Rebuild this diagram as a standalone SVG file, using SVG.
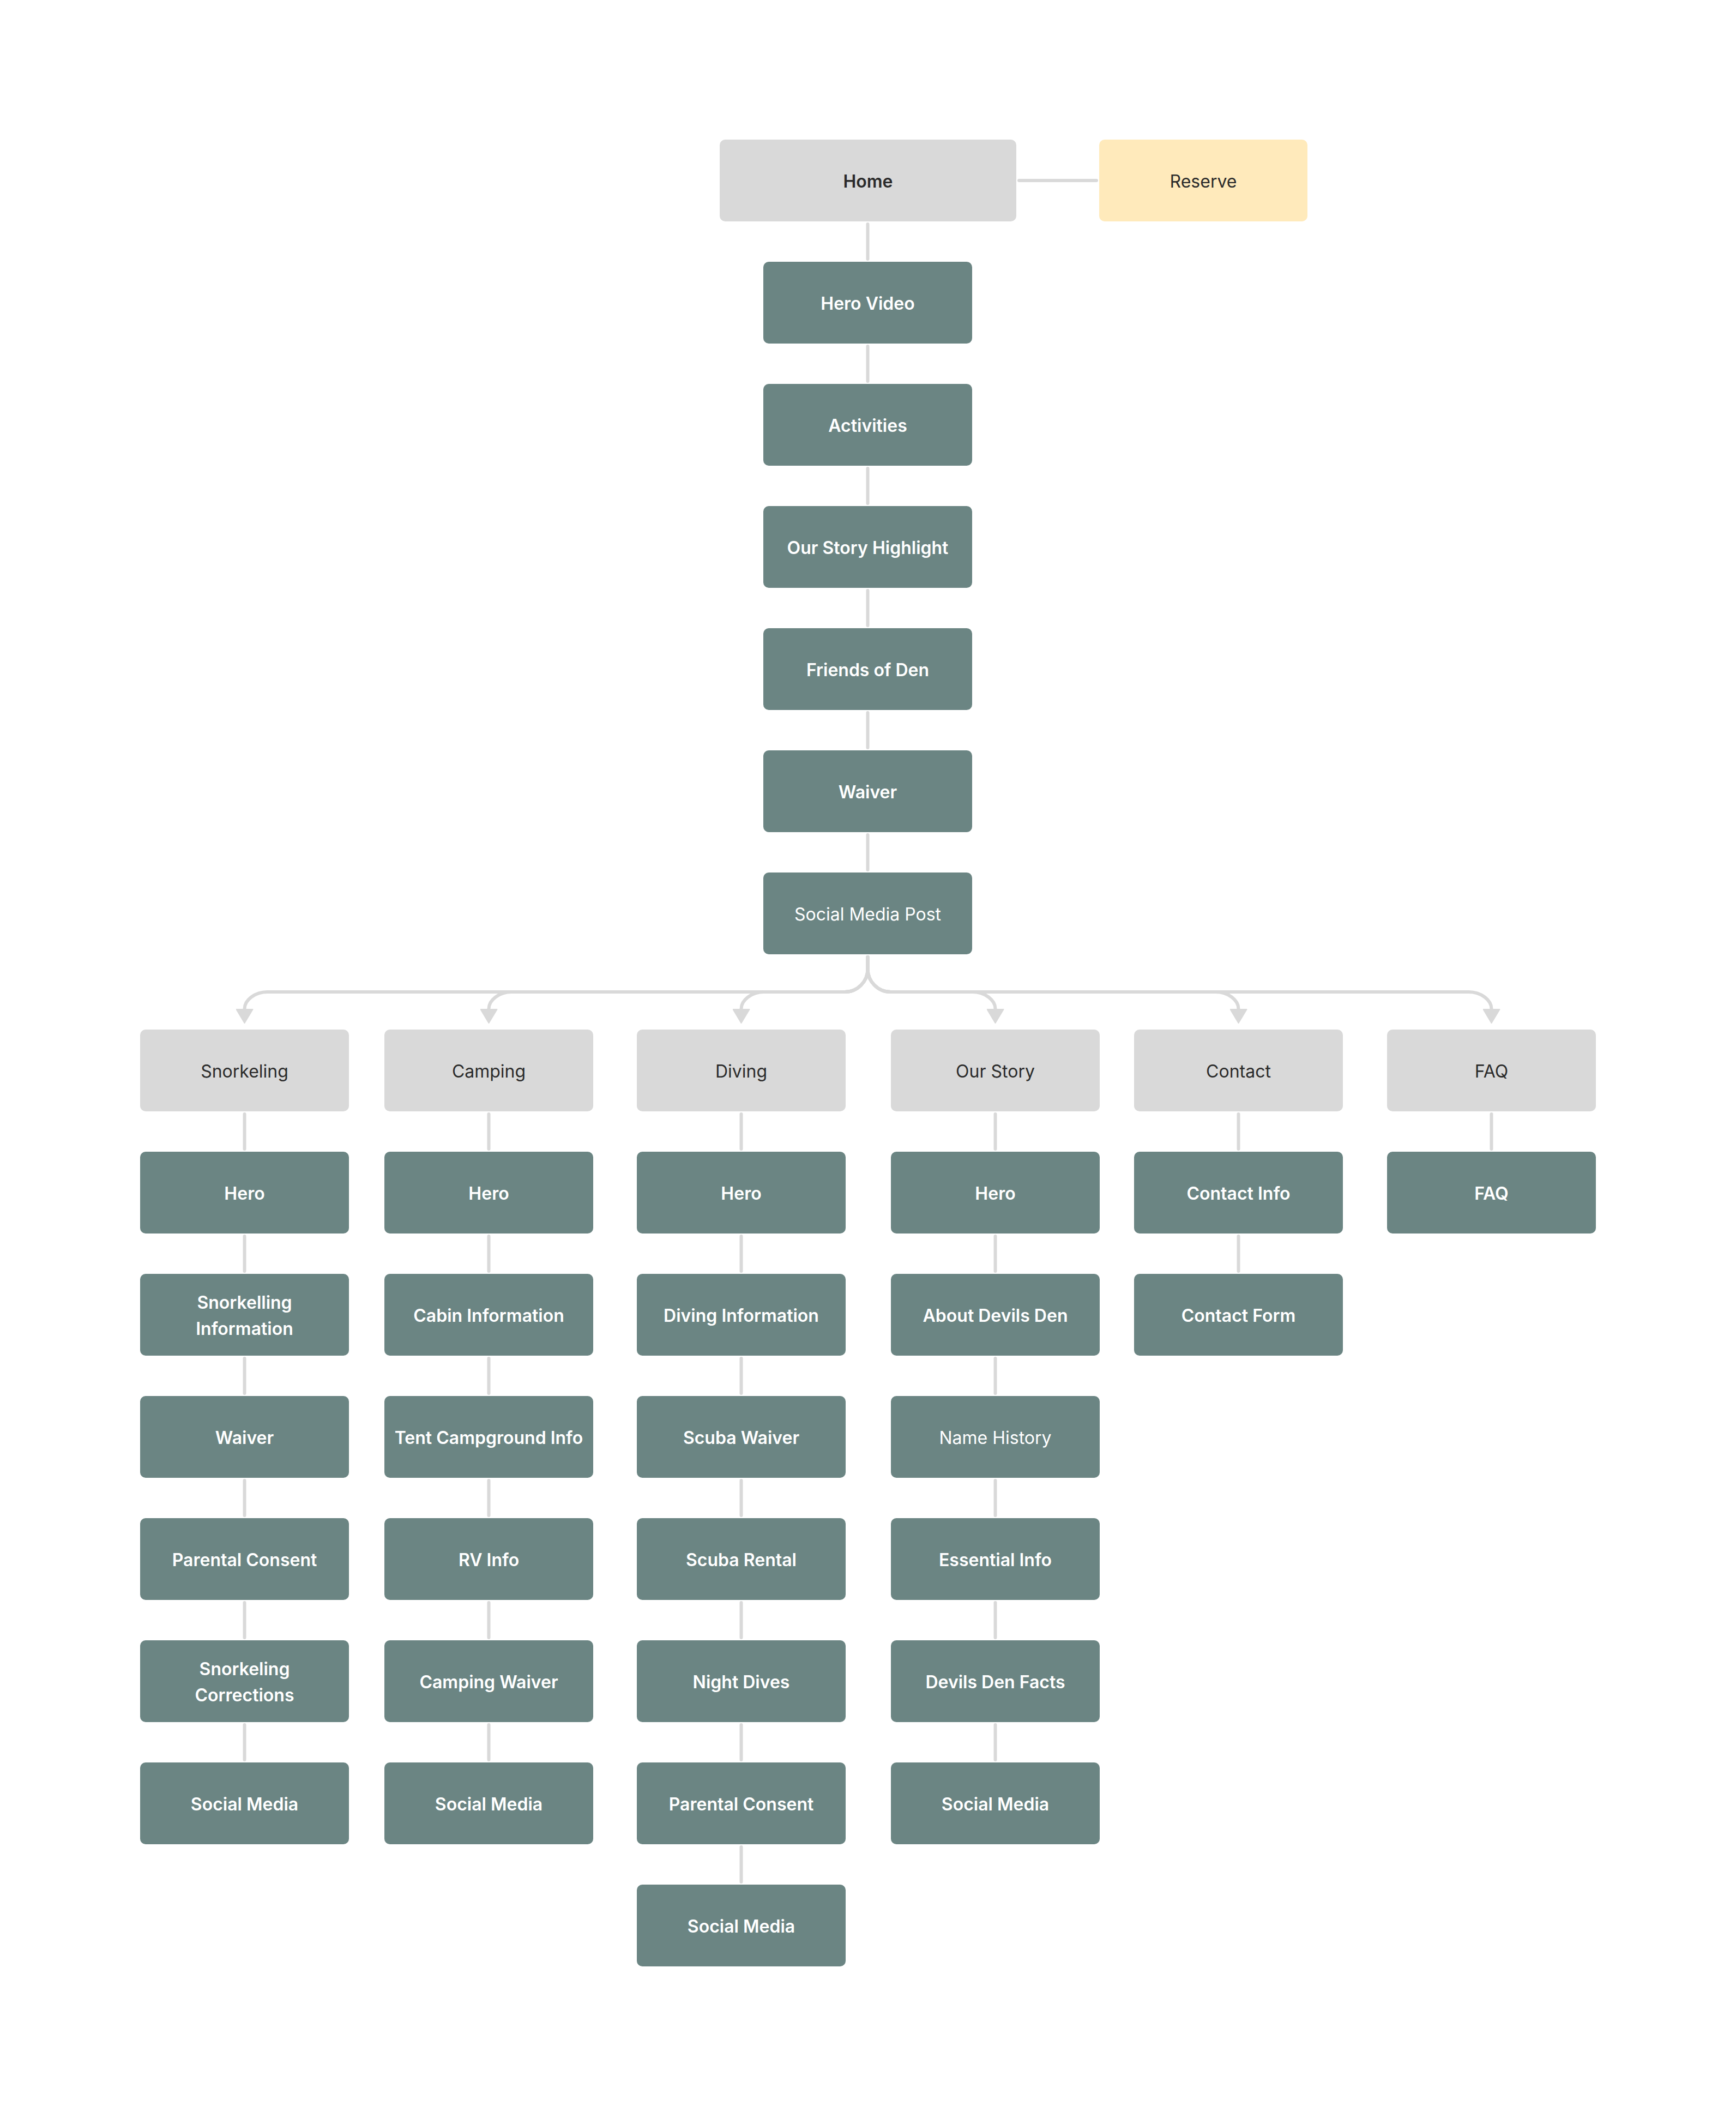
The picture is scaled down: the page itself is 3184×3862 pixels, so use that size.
<svg xmlns="http://www.w3.org/2000/svg" width="3184" height="3862" viewBox="0 0 3184 3862">
<style>
.g{fill:#d9d9d9}
.t{fill:#6b8583}
.y{fill:#ffeabb}
text{font-family:Inter,"Noto Sans","Liberation Sans",sans-serif;font-size:32px;text-anchor:middle}
.dk{fill:#2b2b2b}
.wh{fill:#ffffff}
.b{font-weight:600}
.c{fill:none;stroke:#d9d9d9;stroke-width:6;stroke-linecap:round}
.a{fill:none;stroke:#d9d9d9;stroke-width:6;stroke-linecap:round;marker-end:url(#arr)}
</style>
<defs>
<marker id="arr" viewBox="0 0 27 32" refX="0" refY="16" markerWidth="27" markerHeight="32" markerUnits="userSpaceOnUse" orient="auto">
<path d="M1,1 L26,16 L1,31 Z" fill="#d9d9d9" stroke="#d9d9d9" stroke-width="2" stroke-linejoin="round"/>
</marker>
</defs>
<rect width="3184" height="3862" fill="#ffffff"/>
<g id="connectors">
<path class="c" d="M1869 331 H2011"/>
<path class="c" d="M1591.5 411 V475 M1591.5 635 V699 M1591.5 859 V923 M1591.5 1083 V1147 M1591.5 1307 V1371 M1591.5 1531 V1595"/>
<path class="a" d="M1591.5 1755 V1777 C1591.5 1800 1572.6 1819 1549.5 1819 H490.5 C467.5 1819 448.5 1834 448.5 1850"/>
<path class="a" d="M1591.5 1755 V1777 C1591.5 1800 1572.6 1819 1549.5 1819 H938.5 C915.5 1819 896.5 1834 896.5 1850"/>
<path class="a" d="M1591.5 1755 V1777 C1591.5 1800 1572.6 1819 1549.5 1819 H1401.5 C1378.5 1819 1359.5 1834 1359.5 1850"/>
<path class="a" d="M1591.5 1755 V1777 C1591.5 1800 1610.4 1819 1633.5 1819 H1783.5 C1806.5 1819 1825.5 1834 1825.5 1850"/>
<path class="a" d="M1591.5 1755 V1777 C1591.5 1800 1610.4 1819 1633.5 1819 H2229.5 C2252.5 1819 2271.5 1834 2271.5 1850"/>
<path class="a" d="M1591.5 1755 V1777 C1591.5 1800 1610.4 1819 1633.5 1819 H2693.5 C2716.5 1819 2735.5 1834 2735.5 1850"/>
<path class="c" d="M448.5 2043 V2107 M448.5 2267 V2331 M448.5 2491 V2555 M448.5 2715 V2779 M448.5 2939 V3003 M448.5 3163 V3227"/>
<path class="c" d="M896.5 2043 V2107 M896.5 2267 V2331 M896.5 2491 V2555 M896.5 2715 V2779 M896.5 2939 V3003 M896.5 3163 V3227"/>
<path class="c" d="M1359.5 2043 V2107 M1359.5 2267 V2331 M1359.5 2491 V2555 M1359.5 2715 V2779 M1359.5 2939 V3003 M1359.5 3163 V3227 M1359.5 3387 V3451"/>
<path class="c" d="M1825.5 2043 V2107 M1825.5 2267 V2331 M1825.5 2491 V2555 M1825.5 2715 V2779 M1825.5 2939 V3003 M1825.5 3163 V3227"/>
<path class="c" d="M2271.5 2043 V2107 M2271.5 2267 V2331"/>
<path class="c" d="M2735.5 2043 V2107"/>
</g>
<g id="home"><rect class="g" x="1320" y="256" width="544" height="150" rx="10"/><text class="dk b" x="1592" y="344">Home</text></g>
<g id="reserve"><rect class="y" x="2016" y="256" width="382" height="150" rx="10"/><text class="dk" x="2207" y="344">Reserve</text></g>
<g id="hero-video"><rect class="t" x="1400" y="480" width="383" height="150" rx="10"/><text class="wh b" x="1591.5" y="568">Hero Video</text></g>
<g id="activities"><rect class="t" x="1400" y="704" width="383" height="150" rx="10"/><text class="wh b" x="1591.5" y="792">Activities</text></g>
<g id="our-story-highlight"><rect class="t" x="1400" y="928" width="383" height="150" rx="10"/><text class="wh b" x="1591.5" y="1016">Our Story Highlight</text></g>
<g id="friends-of-den"><rect class="t" x="1400" y="1152" width="383" height="150" rx="10"/><text class="wh b" x="1591.5" y="1240">Friends of Den</text></g>
<g id="waiver-main"><rect class="t" x="1400" y="1376" width="383" height="150" rx="10"/><text class="wh b" x="1591.5" y="1464">Waiver</text></g>
<g id="social-media-post"><rect class="t" x="1400" y="1600" width="383" height="150" rx="10"/><text class="wh" x="1591.5" y="1688">Social Media Post</text></g>

<g id="snorkeling"><rect class="g" x="257" y="1888" width="383" height="150" rx="10"/><text class="dk" x="448.5" y="1976">Snorkeling</text></g>
<g id="snk-hero"><rect class="t" x="257" y="2112" width="383" height="150" rx="10"/><text class="wh b" x="448.5" y="2200">Hero</text></g>
<g id="snk-info"><rect class="t" x="257" y="2336" width="383" height="150" rx="10"/><text class="wh b" x="448.5" y="2400">Snorkelling</text><text class="wh b" x="448.5" y="2448">Information</text></g>
<g id="snk-waiver"><rect class="t" x="257" y="2560" width="383" height="150" rx="10"/><text class="wh b" x="448.5" y="2648">Waiver</text></g>
<g id="snk-consent"><rect class="t" x="257" y="2784" width="383" height="150" rx="10"/><text class="wh b" x="448.5" y="2872">Parental Consent</text></g>
<g id="snk-corrections"><rect class="t" x="257" y="3008" width="383" height="150" rx="10"/><text class="wh b" x="448.5" y="3072">Snorkeling</text><text class="wh b" x="448.5" y="3120">Corrections</text></g>
<g id="snk-social"><rect class="t" x="257" y="3232" width="383" height="150" rx="10"/><text class="wh b" x="448.5" y="3320">Social Media</text></g>

<g id="camping"><rect class="g" x="705" y="1888" width="383" height="150" rx="10"/><text class="dk" x="896.5" y="1976">Camping</text></g>
<g id="cmp-hero"><rect class="t" x="705" y="2112" width="383" height="150" rx="10"/><text class="wh b" x="896.5" y="2200">Hero</text></g>
<g id="cmp-cabin"><rect class="t" x="705" y="2336" width="383" height="150" rx="10"/><text class="wh b" x="896.5" y="2424">Cabin Information</text></g>
<g id="cmp-tent"><rect class="t" x="705" y="2560" width="383" height="150" rx="10"/><text class="wh b" x="896.5" y="2648">Tent Campground Info</text></g>
<g id="cmp-rv"><rect class="t" x="705" y="2784" width="383" height="150" rx="10"/><text class="wh b" x="896.5" y="2872">RV Info</text></g>
<g id="cmp-waiver"><rect class="t" x="705" y="3008" width="383" height="150" rx="10"/><text class="wh b" x="896.5" y="3096">Camping Waiver</text></g>
<g id="cmp-social"><rect class="t" x="705" y="3232" width="383" height="150" rx="10"/><text class="wh b" x="896.5" y="3320">Social Media</text></g>

<g id="diving"><rect class="g" x="1168" y="1888" width="383" height="150" rx="10"/><text class="dk" x="1359.5" y="1976">Diving</text></g>
<g id="div-hero"><rect class="t" x="1168" y="2112" width="383" height="150" rx="10"/><text class="wh b" x="1359.5" y="2200">Hero</text></g>
<g id="div-info"><rect class="t" x="1168" y="2336" width="383" height="150" rx="10"/><text class="wh b" x="1359.5" y="2424">Diving Information</text></g>
<g id="div-waiver"><rect class="t" x="1168" y="2560" width="383" height="150" rx="10"/><text class="wh b" x="1359.5" y="2648">Scuba Waiver</text></g>
<g id="div-rental"><rect class="t" x="1168" y="2784" width="383" height="150" rx="10"/><text class="wh b" x="1359.5" y="2872">Scuba Rental</text></g>
<g id="div-night"><rect class="t" x="1168" y="3008" width="383" height="150" rx="10"/><text class="wh b" x="1359.5" y="3096">Night Dives</text></g>
<g id="div-consent"><rect class="t" x="1168" y="3232" width="383" height="150" rx="10"/><text class="wh b" x="1359.5" y="3320">Parental Consent</text></g>
<g id="div-social"><rect class="t" x="1168" y="3456" width="383" height="150" rx="10"/><text class="wh b" x="1359.5" y="3544">Social Media</text></g>

<g id="our-story"><rect class="g" x="1634" y="1888" width="383" height="150" rx="10"/><text class="dk" x="1825.5" y="1976">Our Story</text></g>
<g id="os-hero"><rect class="t" x="1634" y="2112" width="383" height="150" rx="10"/><text class="wh b" x="1825.5" y="2200">Hero</text></g>
<g id="os-about"><rect class="t" x="1634" y="2336" width="383" height="150" rx="10"/><text class="wh b" x="1825.5" y="2424">About Devils Den</text></g>
<g id="os-name"><rect class="t" x="1634" y="2560" width="383" height="150" rx="10"/><text class="wh" x="1825.5" y="2648">Name History</text></g>
<g id="os-essential"><rect class="t" x="1634" y="2784" width="383" height="150" rx="10"/><text class="wh b" x="1825.5" y="2872">Essential Info</text></g>
<g id="os-facts"><rect class="t" x="1634" y="3008" width="383" height="150" rx="10"/><text class="wh b" x="1825.5" y="3096">Devils Den Facts</text></g>
<g id="os-social"><rect class="t" x="1634" y="3232" width="383" height="150" rx="10"/><text class="wh b" x="1825.5" y="3320">Social Media</text></g>

<g id="contact"><rect class="g" x="2080" y="1888" width="383" height="150" rx="10"/><text class="dk" x="2271.5" y="1976">Contact</text></g>
<g id="ct-info"><rect class="t" x="2080" y="2112" width="383" height="150" rx="10"/><text class="wh b" x="2271.5" y="2200">Contact Info</text></g>
<g id="ct-form"><rect class="t" x="2080" y="2336" width="383" height="150" rx="10"/><text class="wh b" x="2271.5" y="2424">Contact Form</text></g>

<g id="faq"><rect class="g" x="2544" y="1888" width="383" height="150" rx="10"/><text class="dk" x="2735.5" y="1976">FAQ</text></g>
<g id="faq-page"><rect class="t" x="2544" y="2112" width="383" height="150" rx="10"/><text class="wh b" x="2735.5" y="2200">FAQ</text></g>
</svg>
